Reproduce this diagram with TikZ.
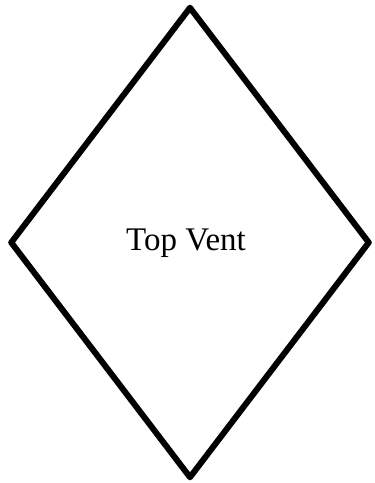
\documentclass[tikz,border=0pt]{standalone}
\usepackage{fontspec}
\setmainfont{Liberation Serif}
\usetikzlibrary{shapes.geometric,positioning}

\begin{document}
\begin{tikzpicture}[
    x=1pt, y=-1pt,
    ventbox/.style={diamond, draw=black, line width=6pt, line join=round,
      minimum width=360pt, minimum height=472pt, inner sep=0pt},
    ventlabel/.style={font=\fontsize{33}{39}\selectfont, inner sep=0pt}
  ]
    \useasboundingbox (0,0) rectangle (375,483);

    % Diamond
    \node[ventbox] (vent) at (190,242.5) {};
    \node[ventlabel] (ventname) at ([xshift=-4pt,yshift=-1pt]vent.center) {Top Vent};
  \end{tikzpicture}
\end{document}
